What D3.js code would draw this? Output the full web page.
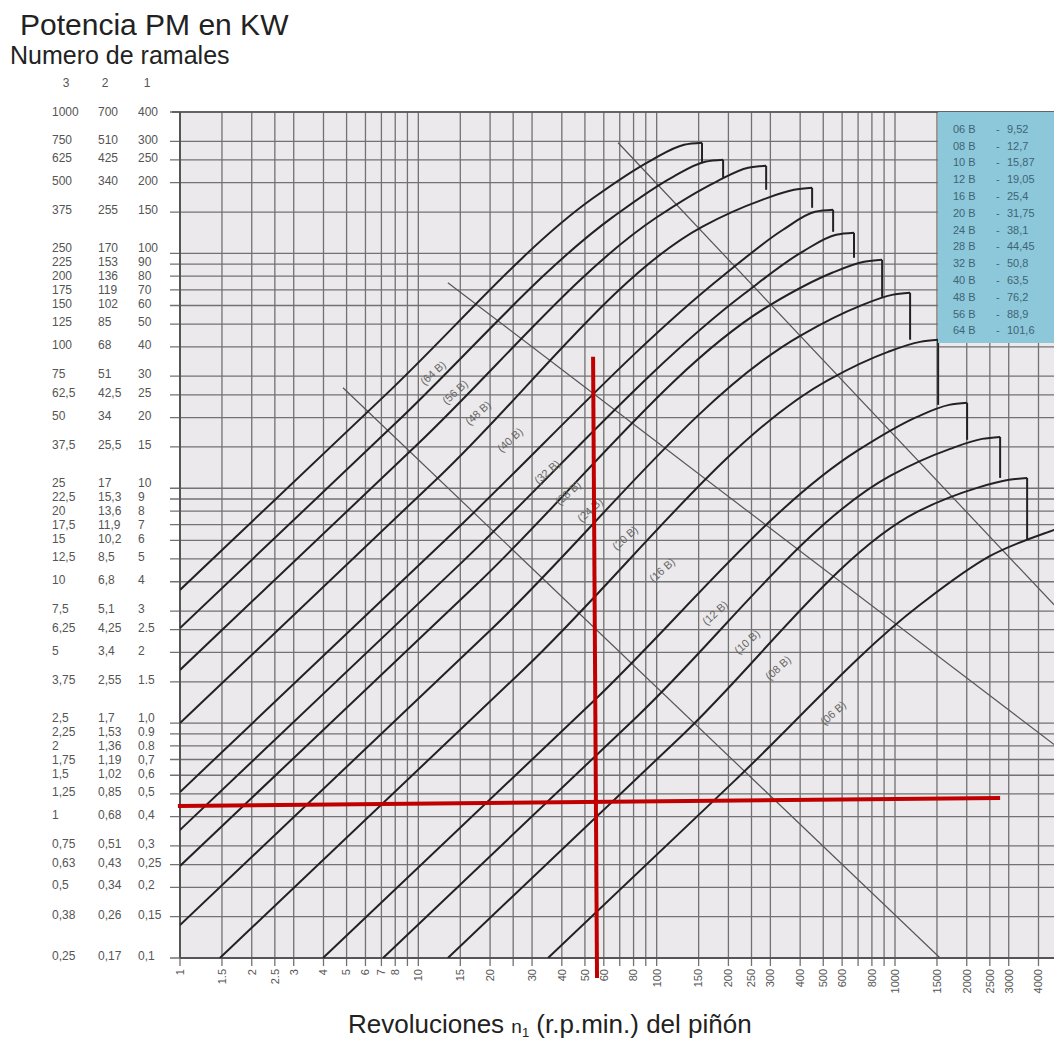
<!DOCTYPE html>
<html>
<head>
<meta charset="utf-8">
<script src="https://cdn.jsdelivr.net/npm/d3@7"></script>
<style>
  body { margin: 0; background: #fff; }
  svg { display: block; font-family: "Liberation Sans", Arial, sans-serif; }
</style>
</head>
<body>
<div id="chart"></div>
<script>
var width = 1054;
var height = 1039;

// power axis (kW), one column per number of strands
var kwCol1 = [400,300,250,200,150,100,90,80,70,60,50,40,30,25,20,15,10,9,8,7,6,5,4,3,2.5,2,1.5,1,0.9,0.8,0.7,0.6,0.5,0.4,0.3,0.25,0.2,0.15,0.1];
var kwText1 = ["400","300","250","200","150","100","90","80","70","60","50","40","30","25","20","15","10","9","8","7","6","5","4","3","2.5","2","1.5","1,0","0.9","0.8","0,7","0,6","0,5","0,4","0,3","0,25","0,2","0,15","0,1"];
var kwText2 = ["700","510","425","340","255","170","153","136","119","102","85","68","51","42,5","34","25,5","17","15,3","13,6","11,9","10,2","8,5","6,8","5,1","4,25","3,4","2,55","1,7","1,53","1,36","1,19","1,02","0,85","0,68","0,51","0,43","0,34","0,26","0,17"];
var kwText3 = ["1000","750","625","500","375","250","225","200","175","150","125","100","75","62,5","50","37,5","25","22,5","20","17,5","15","12,5","10","7,5","6,25","5","3,75","2,5","2,25","2","1,75","1,5","1,25","1","0,75","0,63","0,5","0,38","0,25"];

// rpm axis
var rpmGrid = [1,1.5,2,2.5,3,4,5,6,7,8,9,10,15,20,25,30,40,50,60,70,80,90,100,150,200,250,300,400,500,600,700,800,900,1000,1500,2000,2500,3000,4000,5000];
var rpmLabels = [1,1.5,2,2.5,3,4,5,6,7,8,10,15,20,30,40,50,60,80,100,150,200,250,300,400,500,600,800,1000,1500,2000,2500,3000,4000,5000];

// chains and pitch (mm)
var chainNames = ["06 B","08 B","10 B","12 B","16 B","20 B","24 B","28 B","32 B","40 B","48 B","56 B","64 B"];
var pitchText = ["9,52","12,7","15,87","19,05","25,4","31,75","38,1","44,45","50,8","63,5","76,2","88,9","101,6"];

// rating curves [rpm, kW], last point = max rpm
var curvePoints = [
  [[35,0.1],[211,0.565],[1274,3.19],[2507,5.15],[4653,6.65],[7255,7.70],[8804,7.93]],
  [[13.3,0.1],[128.4,0.891],[1238,7.93],[2211,10.04],[3011,10.86],[3584,11.07]],
  [[7.11,0.1],[82.4,1.063],[954,11.29],[1703,14.72],[2320,16.23],[2761,16.55]],
  [[3.98,0.1],[52.5,1.20],[693,14.43],[1238,20.15],[1687,22.65],[2007,23.1]],
  [[1.47,0.1],[27.8,1.70],[524,28.9],[935,38.1],[1274,42.0],[1517,42.9]],
  [[1,0.138],[20.0,2.48],[400,44.6],[714,59.8],[972,66.6],[1157,68.0]],
  [[1,0.2465],[17.5,3.88],[305,61.0],[545,82.7],[742,92.1],[883,93.9]],
  [[1,0.351],[15.3,4.86],[233,67.3],[415,102.6],[566,120.0],[673,122.4]],
  [[1,0.509],[13.8,6.39],[190,80.3],[339,126.1],[462,150.4],[550,153.4]],
  [[1,1.0],[12.45,11.4],[155,129.8],[277,169.1],[377,186.6],[449,190.3]],
  [[1,1.685],[9.97,15.46],[99.4,141.8],[177.6,201.8],[242,231.5],[288,236.0]],
  [[1,2.54],[8.10,19.09],[65.6,143.1],[117.2,212.0],[159.6,245.5],[190,250.4]],
  [[1,3.69],[7.32,25.1],[53.6,170.8],[95.7,250.4],[130.3,290.0],[155,295.8]]
];
var dropKw = [5.5,6.03,11.07,16.08,22.65,42.9,65.3,95.8,123.6,156.4,186.6,209.8,243.1];

// chain label anchors [rpm, kW]
var labelAnchors = [[550,1.105],[323,1.72],[239.5,2.22],[175.9,2.95],[105.4,4.49],[73.7,6.15],[52.5,8.09],[42.5,9.56],[34.7,11.74],[24.25,16.08],[17.81,20.95],[14.26,25.7],[11.53,31.0]];

// thin diagonal guide lines
var guideLines = [
  [[68.9,295.8],[4653,3.19]],
  [[13.3,75],[4653,0.81]],
  [[4.83,26.8],[1546,0.1]]
];

// red reading marks
var markRpm = [[54.1,36.3],[56.2,0.0822]];
var markKw = [[0.98,0.444],[2761,0.48]];

var plotL = 180, plotT = 112, plotB = 958, plotR = 1054;
var x = d3.scaleLog().domain([1, 1000]).range([180, 895]);
var y = d3.scaleLog().domain([0.1, 400]).range([958, 112]);

var svg = d3.select("#chart").append("svg")
  .attr("width", width)
  .attr("height", height);

svg.append("defs").append("clipPath").attr("id", "plot-clip")
  .append("rect").attr("x", plotL).attr("y", plotT)
  .attr("width", plotR - plotL).attr("height", plotB - plotT);

// titles
svg.append("text").attr("x", 20).attr("y", 35)
  .style("font-size", "30px").attr("fill", "#222").text("Potencia PM en KW");
svg.append("text").attr("x", 10).attr("y", 64)
  .style("font-size", "25px").attr("fill", "#222").text("Numero de ramales");

svg.selectAll(".col-head").data(["3","2","1"]).enter().append("text")
  .attr("class", "col-head")
  .attr("x", function(d, i) { return [66, 105, 147][i]; })
  .attr("y", 87)
  .attr("text-anchor", "middle")
  .style("font-size", "12px").attr("fill", "#555")
  .text(function(d) { return d; });

// plot background
svg.append("rect").attr("x", plotL).attr("y", plotT)
  .attr("width", plotR - plotL).attr("height", plotB - plotT)
  .attr("fill", "#ebe9eb");

// grid
svg.selectAll(".hgrid").data(kwCol1).enter().append("line")
  .attr("class", "hgrid")
  .attr("x1", 170).attr("x2", plotR)
  .attr("y1", function(d) { return y(d); })
  .attr("y2", function(d) { return y(d); })
  .attr("stroke", "#727272").attr("stroke-width", 1.3);

svg.selectAll(".vgrid").data(rpmGrid).enter().append("line")
  .attr("class", "vgrid")
  .attr("y1", plotT).attr("y2", 966)
  .attr("x1", function(d) { return x(d); })
  .attr("x2", function(d) { return x(d); })
  .attr("stroke", "#727272").attr("stroke-width", 1.3);

// frame
svg.append("line").attr("x1", plotL).attr("x2", plotL).attr("y1", plotT).attr("y2", plotB)
  .attr("stroke", "#555").attr("stroke-width", 2);
svg.append("line").attr("x1", plotL).attr("x2", plotR).attr("y1", plotB).attr("y2", plotB)
  .attr("stroke", "#555").attr("stroke-width", 2);
svg.append("line").attr("x1", plotL - 8).attr("x2", plotR).attr("y1", plotT).attr("y2", plotT)
  .attr("stroke", "#555").attr("stroke-width", 1.5);

// y labels, spread apart a little where ticks crowd
var labY = kwCol1.map(function(v) { return y(v) - 2; });
for (var k = 0; k < 40; k++) {
  for (var i = 1; i < labY.length; i++) {
    var gap = labY[i] - labY[i - 1];
    if (gap < 14) {
      var push = (14 - gap) / 2;
      labY[i - 1] -= push;
      labY[i] += push;
    }
  }
}
labY[0] = Math.max(labY[0], y(kwCol1[0]));
var yLab = svg.append("g").style("font-size", "12px").attr("fill", "#555");
kwCol1.forEach(function(v, i) {
  var yy = labY[i];
  yLab.append("text").attr("x", 52).attr("y", yy).attr("dy", "0.35em").text(kwText3[i]);
  yLab.append("text").attr("x", 98).attr("y", yy).attr("dy", "0.35em").text(kwText2[i]);
  yLab.append("text").attr("x", 138).attr("y", yy).attr("dy", "0.35em").text(kwText1[i]);
});

// x labels
svg.selectAll(".xlab").data(rpmLabels).enter().append("text")
  .attr("class", "xlab")
  .attr("transform", function(d) { return "translate(" + x(d) + ",969) rotate(-90)"; })
  .attr("text-anchor", "end")
  .attr("dy", "0.35em")
  .style("font-size", "11px").attr("fill", "#555")
  .text(function(d) { return d; });

var xt = svg.append("text").attr("x", 348).attr("y", 1033)
  .style("font-size", "26px").attr("fill", "#222");
xt.append("tspan").text("Revoluciones  ");
xt.append("tspan").style("font-size", "19px").text("n");
xt.append("tspan").style("font-size", "13px").attr("dy", 4).text("1");
xt.append("tspan").attr("dy", -4).text(" (r.p.min.) del piñón");

var plot = svg.append("g").attr("clip-path", "url(#plot-clip)");

var line = d3.line()
  .x(function(d) { return x(d[0]); })
  .y(function(d) { return y(d[1]); });

// guide lines
plot.selectAll(".guide").data(guideLines).enter().append("path")
  .attr("class", "guide")
  .attr("d", line)
  .attr("fill", "none").attr("stroke", "#555").attr("stroke-width", 1.2);

// rating curves
var curve = d3.line()
  .x(function(d) { return x(d[0]); })
  .y(function(d) { return y(d[1]); })
  .curve(d3.curveMonotoneX);

plot.selectAll(".rating").data(curvePoints).enter().append("path")
  .attr("class", "rating")
  .attr("d", curve)
  .attr("fill", "none").attr("stroke", "#222").attr("stroke-width", 2);

plot.selectAll(".drop").data(curvePoints).enter().append("line")
  .attr("class", "drop")
  .attr("x1", function(d) { return x(d[d.length - 1][0]); })
  .attr("x2", function(d) { return x(d[d.length - 1][0]); })
  .attr("y1", function(d) { return y(d[d.length - 1][1]); })
  .attr("y2", function(d, i) { return y(dropKw[i]); })
  .attr("stroke", "#222").attr("stroke-width", 2);

// chain labels on curves
plot.selectAll(".clab").data(labelAnchors).enter().append("text")
  .attr("class", "clab")
  .attr("transform", function(d) { return "translate(" + x(d[0]) + "," + y(d[1]) + ") rotate(-42)"; })
  .attr("text-anchor", "middle").attr("dy", "0.35em")
  .style("font-size", "11px").attr("fill", "#666")
  .text(function(d, i) { return "(" + chainNames[i] + ")"; });

// legend box
svg.append("rect").attr("x", 938).attr("y", plotT)
  .attr("width", plotR - 938).attr("height", 343 - plotT)
  .attr("fill", "#8dc8da");

var leg = svg.append("g").style("font-size", "11px").attr("fill", "#3f6474");
chainNames.forEach(function(n, i) {
  var yy = 129 + i * 16.8;
  leg.append("text").attr("x", 953).attr("y", yy).attr("dy", "0.35em").text(n);
  leg.append("text").attr("x", 996).attr("y", yy).attr("dy", "0.35em").text("-");
  leg.append("text").attr("x", 1007).attr("y", yy).attr("dy", "0.35em").text(pitchText[i]);
});

// red reading lines
svg.append("path").attr("d", line(markRpm))
  .attr("stroke", "#c00000").attr("stroke-width", 4).attr("fill", "none");
svg.append("path").attr("d", line(markKw))
  .attr("stroke", "#c00000").attr("stroke-width", 4).attr("fill", "none");
</script>
</body>
</html>
